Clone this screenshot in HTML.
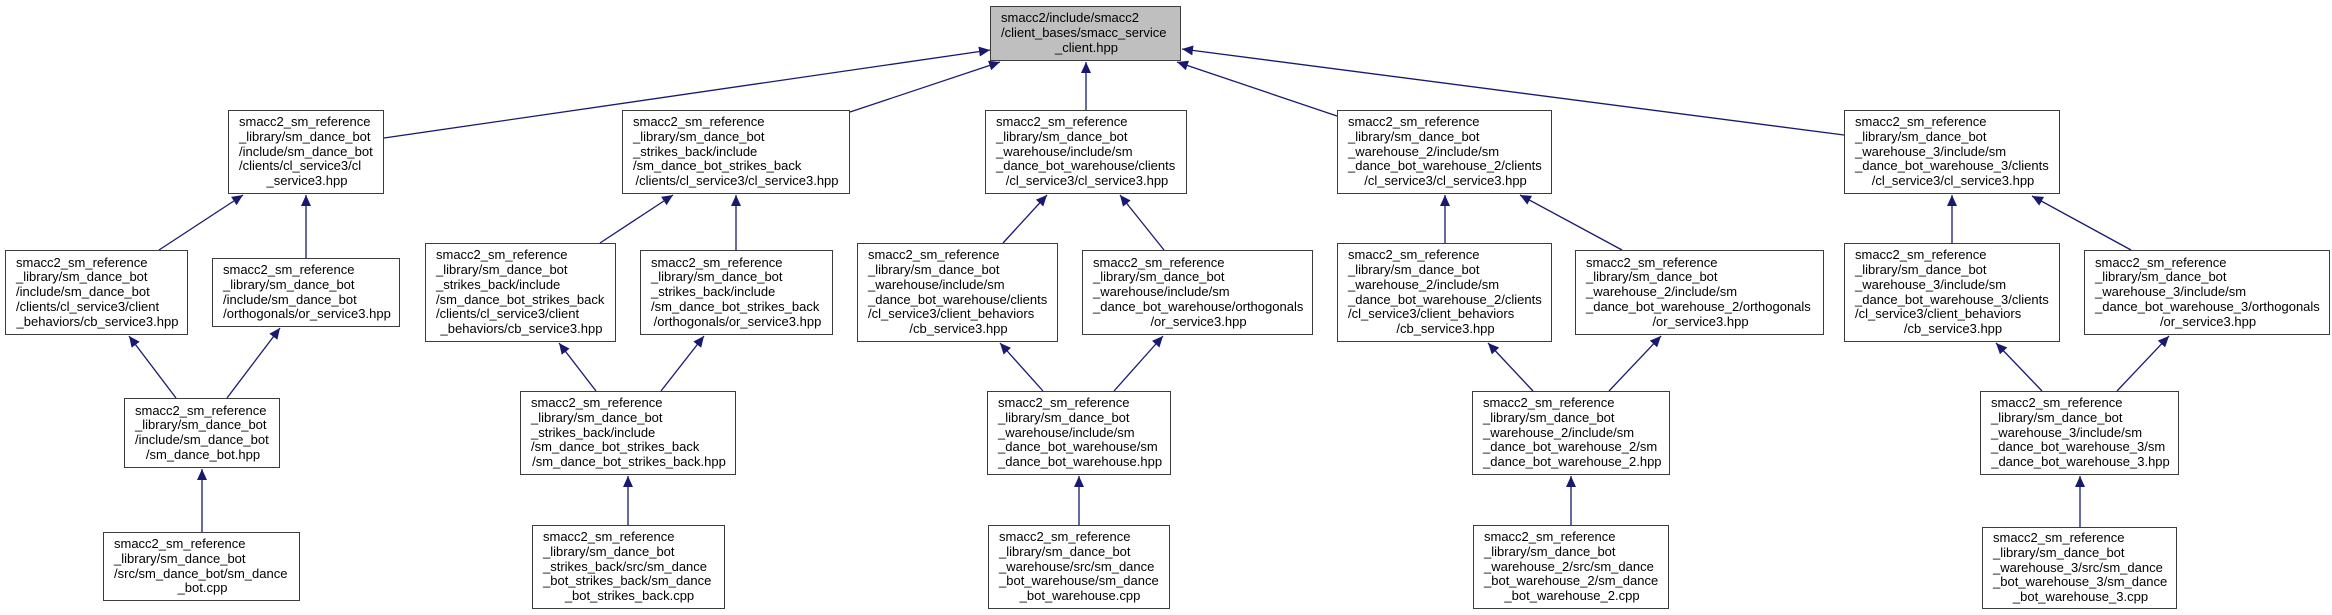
<!DOCTYPE html>
<html><head><meta charset="utf-8"><style>
html,body{margin:0;padding:0;background:#fff;}
body{width:2332px;height:615px;position:relative;overflow:hidden;font-family:"Liberation Sans",Arial,sans-serif;}
.n{position:absolute;box-sizing:border-box;border:1.2px solid #3c3c3c;background:#fff;display:flex;flex-direction:column;justify-content:center;padding:0 8px 0 10px;font-size:13px;line-height:14.7px;color:#000;white-space:nowrap;}
.n div{text-align:left;}
.n div.c{text-align:center;}
.r{background:#bfbfbf;}
svg{position:absolute;left:0;top:0;}
</style></head><body>
<svg width="2332" height="615" viewBox="0 0 2332 615">
<defs><marker id="a" markerWidth="12" markerHeight="10" refX="11" refY="5" orient="auto" markerUnits="userSpaceOnUse"><path d="M0,0 L11,5 L0,10 z" fill="#191970"/></marker></defs>
<g stroke="#191970" stroke-width="1.3" fill="none" marker-end="url(#a)">
<line x1="384" y1="138" x2="990" y2="50"/>
<line x1="850" y1="112" x2="1000" y2="62"/>
<line x1="1086" y1="110" x2="1086" y2="62"/>
<line x1="1337" y1="116" x2="1177" y2="62"/>
<line x1="1844" y1="135" x2="1182" y2="49"/>
<line x1="159" y1="250" x2="243" y2="195"/>
<line x1="306" y1="258" x2="306" y2="195"/>
<line x1="176" y1="398" x2="129" y2="336"/>
<line x1="227" y1="398" x2="280" y2="328"/>
<line x1="202" y1="532" x2="202" y2="469"/>
<line x1="600" y1="243" x2="673" y2="195"/>
<line x1="736" y1="250" x2="736" y2="195"/>
<line x1="596" y1="391" x2="559" y2="343"/>
<line x1="661" y1="391" x2="704" y2="336"/>
<line x1="628" y1="525" x2="628" y2="476"/>
<line x1="1003" y1="243" x2="1047" y2="195"/>
<line x1="1164" y1="250" x2="1120" y2="195"/>
<line x1="1043" y1="391" x2="1000" y2="343"/>
<line x1="1114" y1="391" x2="1163" y2="336"/>
<line x1="1079" y1="525" x2="1079" y2="476"/>
<line x1="1445" y1="243" x2="1445" y2="195"/>
<line x1="1622" y1="250" x2="1520" y2="195"/>
<line x1="1533" y1="391" x2="1488" y2="343"/>
<line x1="1609" y1="391" x2="1661" y2="336"/>
<line x1="1571" y1="525" x2="1571" y2="476"/>
<line x1="1952" y1="243" x2="1952" y2="195"/>
<line x1="2131" y1="250" x2="2032" y2="196"/>
<line x1="2042" y1="391" x2="1996" y2="343"/>
<line x1="2117" y1="391" x2="2169" y2="336"/>
<line x1="2080" y1="527" x2="2080" y2="476"/>
</g></svg>

<div class="n r" style="left:990px;top:6px;width:191px;height:55px"><div>smacc2/include/smacc2</div><div>/client_bases/smacc_service</div><div class="c">_client.hpp</div></div>

<div class="n" style="left:228px;top:110px;width:156px;height:84px"><div>smacc2_sm_reference</div><div>_library/sm_dance_bot</div><div>/include/sm_dance_bot</div><div>/clients/cl_service3/cl</div><div class="c">_service3.hpp</div></div>
<div class="n" style="left:5px;top:250px;width:183px;height:85px"><div>smacc2_sm_reference</div><div>_library/sm_dance_bot</div><div>/include/sm_dance_bot</div><div>/clients/cl_service3/client</div><div class="c">_behaviors/cb_service3.hpp</div></div>
<div class="n" style="left:212px;top:258px;width:188px;height:69px"><div>smacc2_sm_reference</div><div>_library/sm_dance_bot</div><div>/include/sm_dance_bot</div><div class="c">/orthogonals/or_service3.hpp</div></div>
<div class="n" style="left:124px;top:398px;width:156px;height:70px"><div>smacc2_sm_reference</div><div>_library/sm_dance_bot</div><div>/include/sm_dance_bot</div><div class="c">/sm_dance_bot.hpp</div></div>
<div class="n" style="left:103px;top:532px;width:197px;height:69px"><div>smacc2_sm_reference</div><div>_library/sm_dance_bot</div><div>/src/sm_dance_bot/sm_dance</div><div class="c">_bot.cpp</div></div>

<div class="n" style="left:622px;top:110px;width:228px;height:84px"><div>smacc2_sm_reference</div><div>_library/sm_dance_bot</div><div>_strikes_back/include</div><div>/sm_dance_bot_strikes_back</div><div class="c">/clients/cl_service3/cl_service3.hpp</div></div>
<div class="n" style="left:425px;top:243px;width:191px;height:99px"><div>smacc2_sm_reference</div><div>_library/sm_dance_bot</div><div>_strikes_back/include</div><div>/sm_dance_bot_strikes_back</div><div>/clients/cl_service3/client</div><div class="c">_behaviors/cb_service3.hpp</div></div>
<div class="n" style="left:640px;top:250px;width:193px;height:85px"><div>smacc2_sm_reference</div><div>_library/sm_dance_bot</div><div>_strikes_back/include</div><div>/sm_dance_bot_strikes_back</div><div class="c">/orthogonals/or_service3.hpp</div></div>
<div class="n" style="left:520px;top:391px;width:216px;height:84px"><div>smacc2_sm_reference</div><div>_library/sm_dance_bot</div><div>_strikes_back/include</div><div>/sm_dance_bot_strikes_back</div><div class="c">/sm_dance_bot_strikes_back.hpp</div></div>
<div class="n" style="left:532px;top:525px;width:193px;height:84px"><div>smacc2_sm_reference</div><div>_library/sm_dance_bot</div><div>_strikes_back/src/sm_dance</div><div>_bot_strikes_back/sm_dance</div><div class="c">_bot_strikes_back.cpp</div></div>

<div class="n" style="left:985px;top:110px;width:202px;height:84px"><div>smacc2_sm_reference</div><div>_library/sm_dance_bot</div><div>_warehouse/include/sm</div><div>_dance_bot_warehouse/clients</div><div class="c">/cl_service3/cl_service3.hpp</div></div>
<div class="n" style="left:857px;top:243px;width:201px;height:99px"><div>smacc2_sm_reference</div><div>_library/sm_dance_bot</div><div>_warehouse/include/sm</div><div>_dance_bot_warehouse/clients</div><div>/cl_service3/client_behaviors</div><div class="c">/cb_service3.hpp</div></div>
<div class="n" style="left:1082px;top:250px;width:231px;height:85px"><div>smacc2_sm_reference</div><div>_library/sm_dance_bot</div><div>_warehouse/include/sm</div><div>_dance_bot_warehouse/orthogonals</div><div class="c">/or_service3.hpp</div></div>
<div class="n" style="left:987px;top:391px;width:184px;height:84px"><div>smacc2_sm_reference</div><div>_library/sm_dance_bot</div><div>_warehouse/include/sm</div><div>_dance_bot_warehouse/sm</div><div class="c">_dance_bot_warehouse.hpp</div></div>
<div class="n" style="left:988px;top:525px;width:182px;height:84px"><div>smacc2_sm_reference</div><div>_library/sm_dance_bot</div><div>_warehouse/src/sm_dance</div><div>_bot_warehouse/sm_dance</div><div class="c">_bot_warehouse.cpp</div></div>

<div class="n" style="left:1337px;top:110px;width:215px;height:84px"><div>smacc2_sm_reference</div><div>_library/sm_dance_bot</div><div>_warehouse_2/include/sm</div><div>_dance_bot_warehouse_2/clients</div><div class="c">/cl_service3/cl_service3.hpp</div></div>
<div class="n" style="left:1337px;top:243px;width:215px;height:99px"><div>smacc2_sm_reference</div><div>_library/sm_dance_bot</div><div>_warehouse_2/include/sm</div><div>_dance_bot_warehouse_2/clients</div><div>/cl_service3/client_behaviors</div><div class="c">/cb_service3.hpp</div></div>
<div class="n" style="left:1575px;top:250px;width:249px;height:85px"><div>smacc2_sm_reference</div><div>_library/sm_dance_bot</div><div>_warehouse_2/include/sm</div><div>_dance_bot_warehouse_2/orthogonals</div><div class="c">/or_service3.hpp</div></div>
<div class="n" style="left:1472px;top:391px;width:198px;height:84px"><div>smacc2_sm_reference</div><div>_library/sm_dance_bot</div><div>_warehouse_2/include/sm</div><div>_dance_bot_warehouse_2/sm</div><div class="c">_dance_bot_warehouse_2.hpp</div></div>
<div class="n" style="left:1473px;top:525px;width:196px;height:84px"><div>smacc2_sm_reference</div><div>_library/sm_dance_bot</div><div>_warehouse_2/src/sm_dance</div><div>_bot_warehouse_2/sm_dance</div><div class="c">_bot_warehouse_2.cpp</div></div>

<div class="n" style="left:1844px;top:110px;width:216px;height:84px"><div>smacc2_sm_reference</div><div>_library/sm_dance_bot</div><div>_warehouse_3/include/sm</div><div>_dance_bot_warehouse_3/clients</div><div class="c">/cl_service3/cl_service3.hpp</div></div>
<div class="n" style="left:1844px;top:243px;width:216px;height:99px"><div>smacc2_sm_reference</div><div>_library/sm_dance_bot</div><div>_warehouse_3/include/sm</div><div>_dance_bot_warehouse_3/clients</div><div>/cl_service3/client_behaviors</div><div class="c">/cb_service3.hpp</div></div>
<div class="n" style="left:2084px;top:250px;width:246px;height:85px"><div>smacc2_sm_reference</div><div>_library/sm_dance_bot</div><div>_warehouse_3/include/sm</div><div>_dance_bot_warehouse_3/orthogonals</div><div class="c">/or_service3.hpp</div></div>
<div class="n" style="left:1980px;top:391px;width:199px;height:84px"><div>smacc2_sm_reference</div><div>_library/sm_dance_bot</div><div>_warehouse_3/include/sm</div><div>_dance_bot_warehouse_3/sm</div><div class="c">_dance_bot_warehouse_3.hpp</div></div>
<div class="n" style="left:1982px;top:527px;width:195px;height:82px"><div>smacc2_sm_reference</div><div>_library/sm_dance_bot</div><div>_warehouse_3/src/sm_dance</div><div>_bot_warehouse_3/sm_dance</div><div class="c">_bot_warehouse_3.cpp</div></div>
</body></html>
